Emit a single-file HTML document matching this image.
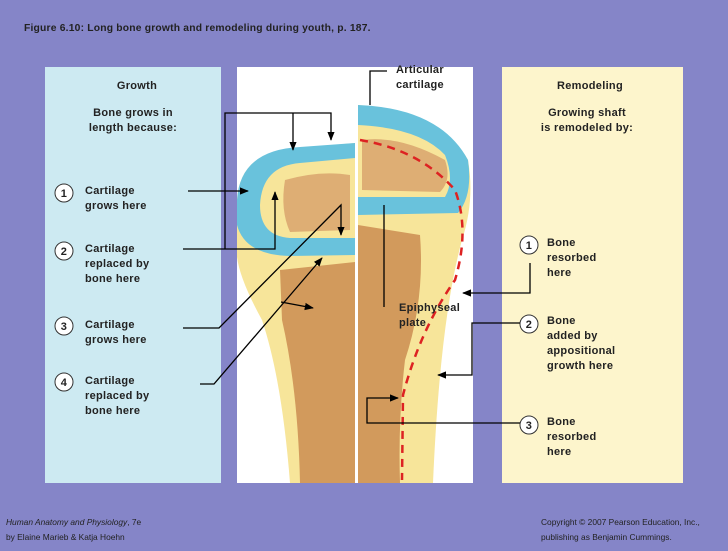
<!DOCTYPE html>
<html><head><style>
body{margin:0;width:728px;height:546px;overflow:hidden;background:#8585c8;font-family:"Liberation Sans",sans-serif;}
svg text{font-family:"Liberation Sans",sans-serif;font-weight:bold;font-size:11px;fill:#222;letter-spacing:0.3px;}
svg text.n{font-weight:normal;font-size:8.4px;letter-spacing:0;}
svg text.t{font-size:10.3px;letter-spacing:0.2px;}
</style></head><body>
<svg width="728" height="546" viewBox="0 0 728 546" xmlns="http://www.w3.org/2000/svg">
<defs>
<marker id="a" viewBox="0 0 10 10" refX="9" refY="5" markerWidth="7" markerHeight="7" orient="auto"><path d="M0,1 L10,5 L0,9 Z" fill="#000"/></marker>
</defs>
<rect width="728" height="546" fill="#8585c8"/>
<text class="t" x="24" y="31">Figure 6.10:  Long bone growth and remodeling during youth, p. 187.</text>
<rect x="45" y="67" width="176" height="416" fill="#cdeaf2"/>
<rect x="502" y="67" width="181" height="416" fill="#fdf5cc"/>
<rect x="237" y="67" width="236" height="416" fill="#fff"/>
<!-- left half bone -->
<path d="M237,200 Q240,150 300,148 L355,143 L355,483 L290,483 Q282,380 262,320 Q240,280 237,257 Z" fill="#f7e59a"/>
<path d="M280,270 L355,262 L355,483 L300,483 Q298,390 282,320 Z" fill="#d29a5c"/>
<path d="M237,200 Q240,150 300,147 L355,143 L355,158 L300,163 Q262,166 260,205 Q260,236 290,238 L355,238 L355,255 L290,256 Q245,255 237,225 Z" fill="#69c2dc"/>
<path d="M285,180 Q320,170 350,175 L350,230 L290,232 Q280,210 285,180Z" fill="#d7a06a" opacity="0.8"/>
<!-- right half bone -->
<path d="M358,105 Q440,110 468,160 Q475,200 462,240 Q440,320 433,483 L358,483 Z" fill="#f7e59a"/>
<path d="M358,225 L420,235 Q425,300 405,360 Q398,420 400,483 L358,483 Z" fill="#d29a5c"/>
<path d="M358,105 Q440,108 468,160 Q473,195 458,213 L358,215 L358,197 L445,197 Q455,180 445,155 Q420,128 358,125 Z" fill="#69c2dc"/>
<path d="M362,140 Q400,135 445,160 Q452,180 440,192 L362,190 Z" fill="#d7a06a" opacity="0.8"/>
<path d="M360,140 Q420,150 455,190 Q470,230 455,280 Q420,330 403,395 L402,480" fill="none" stroke="#d22" stroke-width="2.5" stroke-dasharray="8,6"/>
<!-- left panel text -->
<text x="137" y="89" text-anchor="middle">Growth</text>
<text x="133" y="116" text-anchor="middle">Bone grows in</text>
<text x="133" y="131" text-anchor="middle">length because:</text>
<g fill="#fff" stroke="#333"><circle cx="64" cy="193" r="9"/><circle cx="64" cy="251" r="9"/><circle cx="64" cy="326" r="9"/><circle cx="64" cy="382" r="9"/></g>
<text x="64" y="197" text-anchor="middle" font-size="10">1</text>
<text x="64" y="255" text-anchor="middle" font-size="10">2</text>
<text x="64" y="330" text-anchor="middle" font-size="10">3</text>
<text x="64" y="386" text-anchor="middle" font-size="10">4</text>
<text x="85" y="194">Cartilage</text><text x="85" y="209">grows here</text>
<text x="85" y="252">Cartilage</text><text x="85" y="267">replaced by</text><text x="85" y="282">bone here</text>
<text x="85" y="328">Cartilage</text><text x="85" y="343">grows here</text>
<text x="85" y="384">Cartilage</text><text x="85" y="399">replaced by</text><text x="85" y="414">bone here</text>
<!-- right panel text -->
<text x="590" y="89" text-anchor="middle">Remodeling</text>
<text x="587" y="116" text-anchor="middle">Growing shaft</text>
<text x="587" y="131" text-anchor="middle">is remodeled by:</text>
<g fill="#fff" stroke="#333"><circle cx="529" cy="245" r="9"/><circle cx="529" cy="324" r="9"/><circle cx="529" cy="425" r="9"/></g>
<text x="529" y="249" text-anchor="middle" font-size="10">1</text>
<text x="529" y="328" text-anchor="middle" font-size="10">2</text>
<text x="529" y="429" text-anchor="middle" font-size="10">3</text>
<text x="547" y="246">Bone</text><text x="547" y="261">resorbed</text><text x="547" y="276">here</text>
<text x="547" y="324">Bone</text><text x="547" y="339">added by</text><text x="547" y="354">appositional</text><text x="547" y="369">growth here</text>
<text x="547" y="425">Bone</text><text x="547" y="440">resorbed</text><text x="547" y="455">here</text>
<text x="396" y="73">Articular</text><text x="396" y="88">cartilage</text>
<text x="399" y="311">Epiphyseal</text><text x="399" y="326">plate</text>
<!-- connectors -->
<g fill="none" stroke="#000" stroke-width="1.3">
<path d="M387,71 L370,71 L370,105"/>
<path d="M384,307 L384,300 L384,205"/>
<path d="M225,249 L225,113 L331,113 L331,140" marker-end="url(#a)"/>
<path d="M293,113 L293,150" marker-end="url(#a)"/>
<path d="M188,191 L248,191" marker-end="url(#a)"/>
<path d="M183,249 L275,249 L275,192" marker-end="url(#a)"/>
<path d="M183,328 L219,328 L341,205 L341,235" marker-end="url(#a)"/>
<path d="M200,384 L214,384 L322,258" marker-end="url(#a)"/>
<path d="M281,302 L313,308" marker-end="url(#a)"/>
<path d="M530,263 L530,293 L463,293" marker-end="url(#a)"/>
<path d="M520,323 L472,323 L472,375 L438,375" marker-end="url(#a)"/>
<path d="M520,423 L367,423 L367,398 L398,398" marker-end="url(#a)"/>
</g>
<text class="n" x="6" y="525"><tspan font-style="italic">Human Anatomy and Physiology</tspan>, 7e</text>
<text class="n" x="6" y="540">by Elaine Marieb &amp; Katja Hoehn</text>
<text class="n" x="541" y="525">Copyright © 2007 Pearson Education, Inc.,</text>
<text class="n" x="541" y="540">publishing as Benjamin Cummings.</text>
</svg>
</body></html>
